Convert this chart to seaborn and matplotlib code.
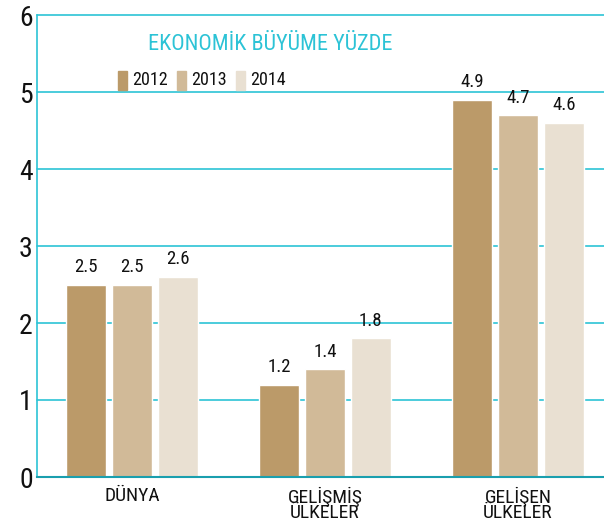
import matplotlib
matplotlib.use("Agg")
import matplotlib.pyplot as plt
import seaborn as sns
import pandas as pd
from matplotlib.patches import Rectangle

# data
categories = ["DÜNYA", "GELİŞMİŞ\nÜLKELER", "GELİŞEN\nÜLKELER"]
years = ["2012", "2013", "2014"]
v2012 = [2.5, 1.2, 4.9]
v2013 = [2.5, 1.4, 4.7]
v2014 = [2.6, 1.8, 4.6]
colors = ["#bb9a69", "#d1ba98", "#e9e0d2"]
cyan = "#2cc3d6"

sns.set_theme(style="white")
plt.rcParams['font.family'] = ['Roboto Condensed', 'DejaVu Sans']

rows = []
for i, c in enumerate(categories):
    for y, vals in zip(years, [v2012, v2013, v2014]):
        rows.append({"cat": c, "year": y, "value": vals[i]})
df = pd.DataFrame(rows)

fig = plt.figure(figsize=(6.04, 5.24), dpi=100)
ax = fig.add_axes([37 / 604, 47 / 524, 1 - 37 / 604, 462 / 524])

sns.barplot(data=df, x="cat", y="value", hue="year", palette=colors,
            width=0.714, gap=0.13, ax=ax, legend=False, saturation=1)

for cont in ax.containers:
    ax.bar_label(cont, fmt="%.1f", padding=6, fontsize=13.5, color="#111111")

ax.set_ylim(0, 6)
ax.set_xlim(-0.492, 2.446)
ax.set_yticks(range(7))
ax.set_yticklabels([str(i) for i in range(7)], fontsize=20, color="#111111")
ax.tick_params(axis="y", length=0, pad=3)
ax.tick_params(axis="x", length=0, pad=7, labelsize=14, labelcolor="#111111")
for lbl in ax.get_xticklabels():
    lbl.set_linespacing(0.8)
ax.set_xlabel("")
ax.set_ylabel("")

for v in range(1, 7):
    ax.axhline(v, color=cyan, lw=1.2, zorder=0, clip_on=False)
ax.set_axisbelow(True)

for s in ["top", "right"]:
    ax.spines[s].set_visible(False)
ax.spines["left"].set_color(cyan)
ax.spines["left"].set_linewidth(1.2)
ax.spines["bottom"].set_color("#1a9fae")
ax.spines["bottom"].set_linewidth(1.5)

# title
fig.text(148 / 604, 1 - 44 / 524, "EKONOMİK BÜYÜME YÜZDE", color=cyan,
         fontsize=16, ha="left", va="center")

# legend
for x0, y in zip([118, 177, 236], years):
    fig.patches.append(Rectangle((x0 / 604, 1 - 90 / 524), 9 / 604, 19 / 524,
                                 transform=fig.transFigure, color=colors[years.index(y)]))
    fig.text((x0 + 14) / 604, 1 - 80 / 524, y, fontsize=13, color="#111111",
             ha="left", va="center")

fig.savefig("out.png", dpi=100)
